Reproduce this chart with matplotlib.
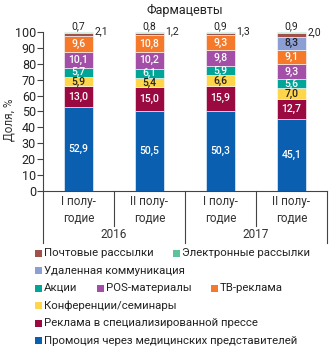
import numpy as np
import matplotlib
matplotlib.use("Agg")
import matplotlib.pyplot as plt
from matplotlib.patches import Rectangle
import matplotlib.transforms as mtransforms

plt.rcParams['font.family'] = ['Roboto', 'DejaVu Sans']

periods = ['I полу-\nгодие', 'II полу-\nгодие', 'I полу-\nгодие', 'II полу-\nгодие']
years = ['2016', '2017']

# bottom -> top
series_names = ['Промоция через медицинских представителей',
                'Реклама в специализированной прессе',
                'Конференции/семинары',
                'Акции',
                'POS-материалы',
                'ТВ-реклама',
                'Удаленная коммуникация',
                'Почтовые рассылки',
                'Электронные рассылки']
promo = [52.9, 50.5, 50.3, 45.1]
press = [13.0, 15.0, 15.9, 12.7]
conf = [5.9, 5.4, 6.6, 7.0]
akcii = [5.7, 6.1, 5.9, 5.6]
pos = [10.1, 10.2, 9.8, 9.3]
tv = [9.6, 10.8, 9.3, 9.1]
remote = [0.0, 0.0, 0.0, 8.3]
mail = [2.1, 1.2, 1.3, 2.0]
email = [0.7, 0.8, 0.9, 0.9]
series = [promo, press, conf, akcii, pos, tv, remote, mail, email]

colors = ['#0a5fb0', '#9a0a40', '#ffd54a', '#00a597', '#a34fa8',
          '#f5792a', '#8c9fd4', '#a0524a', '#5cc39a']
text_colors = ['white', 'white', '#222222', 'white', 'white', 'white',
               '#222222', None, None]

fig = plt.figure(figsize=(3.31, 3.48), dpi=100)
ax = fig.add_axes([43/331, 1-191/348, 284/331, 159/348])

x = np.arange(len(periods))
bottom = np.zeros(len(periods))
for i, vals in enumerate(series):
    vals = np.array(vals)
    ax.bar(x, vals, 0.4, bottom=bottom, color=colors[i],
           edgecolor='white', linewidth=0.4)
    for j, v in enumerate(vals):
        if v <= 0:
            continue
        lab = f'{v:.1f}'.replace('.', ',')
        if i == 7:
            ax.text(x[j] + 0.22, bottom[j] + v/2 + 2, lab, ha='left',
                    va='center', fontsize=7.5, color='#222222')
        elif i == 8:
            ax.text(x[j], bottom[j] + v + 0.8, lab, ha='center',
                    va='bottom', fontsize=7.5, color='#222222')
        else:
            ax.text(x[j], bottom[j] + v/2, lab, ha='center', va='center',
                    fontsize=7.5, color=text_colors[i], fontweight='medium')
    bottom += vals

ax.set_xlim(-0.5, 3.5)
ax.set_ylim(0, 100)
ax.set_yticks(range(0, 101, 10))
ax.tick_params(axis='y', labelsize=9, length=4, width=0.8, pad=1,
               color='#444444', labelcolor='#222222')
ax.set_xticks([])
ax.spines['top'].set_visible(False)
ax.spines['right'].set_visible(False)
ax.spines['left'].set_color('#444444')
ax.spines['bottom'].set_color('#444444')
fig.text(9/331, 1-120/348, 'Доля, %', rotation=90, ha='center', va='center',
         fontsize=8.5, color='#333333')
fig.text(185/331, 1-10/348, 'Фармацевты', ha='center', va='center',
         fontsize=9, color='#222222')

# category axis labels and separators
trans = mtransforms.blended_transform_factory(ax.transData, fig.transFigure)
for j, p in enumerate(periods):
    ax.text(x[j], 1-210/348, p, transform=trans, ha='center', va='center',
            fontsize=8.5, color='#333333', linespacing=1.3)
for k, y in enumerate(years):
    ax.text(2*k + 0.5, 1-235/348, y, transform=trans, ha='center',
            va='center', fontsize=8.5, color='#333333')
for sx in [-0.5, 1.5, 3.5]:
    ax.plot([sx, sx], [1-191/348, 1-243/348], transform=trans,
            color='#444444', lw=0.8, clip_on=False)
for sx in [0.5, 2.5]:
    ax.plot([sx, sx], [1-191/348, 1-226/348], transform=trans,
            color='#444444', lw=0.8, clip_on=False)

# legend
legend_rows = [[(7, 35), (8, 173)],
               [(6, 35)],
               [(3, 35), (4, 97), (5, 211)],
               [(2, 35)],
               [(1, 35)],
               [(0, 35)]]
for r, row in enumerate(legend_rows):
    yc = 253 + r * 17.5
    for idx, px in row:
        fig.patches.append(Rectangle((px/331, 1-(yc+3.5)/348), 7/331, 7/348,
                                     transform=fig.transFigure,
                                     facecolor=colors[idx], edgecolor='none'))
        fig.text((px+9)/331, 1-yc/348, series_names[idx], ha='left',
                 va='center', fontsize=8.2, color='#222222')

fig.savefig('out.png', dpi=100)
